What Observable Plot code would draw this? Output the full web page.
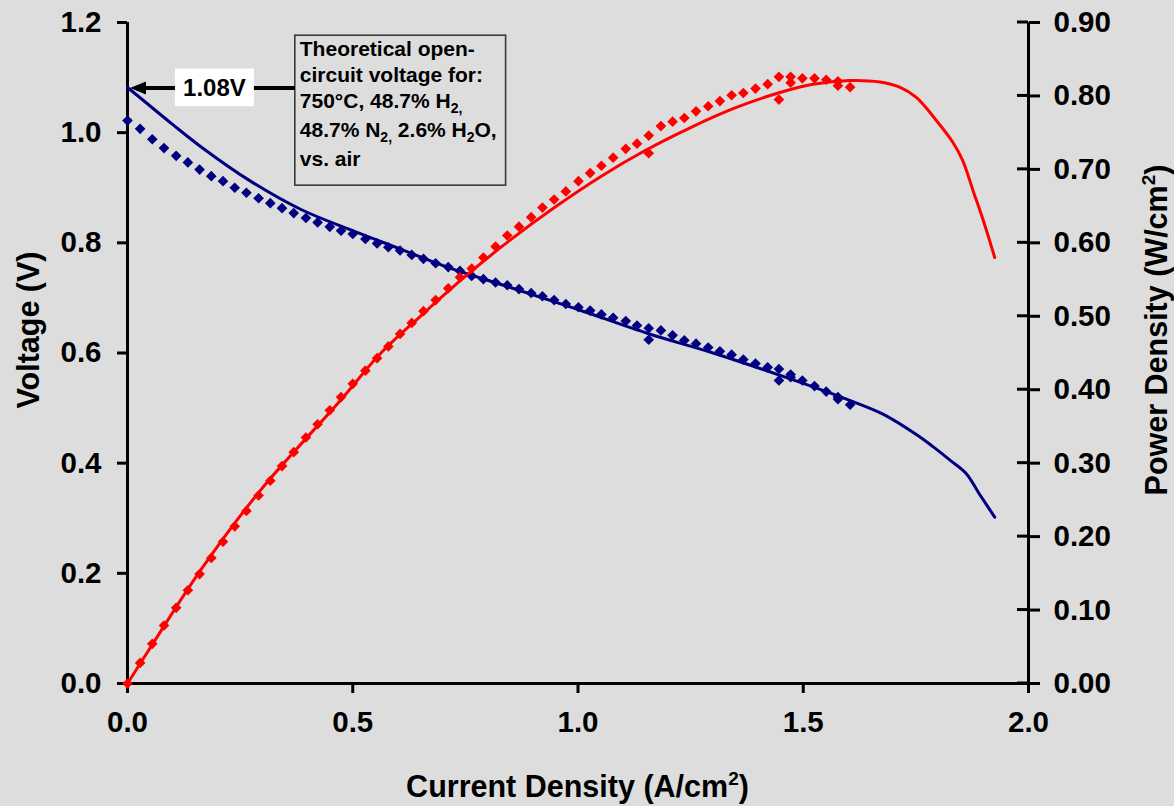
<!DOCTYPE html>
<html>
<head>
<meta charset="utf-8">
<script src="https://cdn.jsdelivr.net/npm/d3@7"></script>
<script src="https://cdn.jsdelivr.net/npm/@observablehq/plot@0.6"></script>
<style>
  html, body { margin: 0; padding: 0; background: #dddddd; }
  #chart svg text { font-family: "Liberation Sans", Arial, sans-serif; font-weight: bold; }
</style>
</head>
<body>
<div id="chart"></div>
<script>
const currentDensity = [0.000, 0.028, 0.055, 0.081, 0.108, 0.134, 0.160, 0.186, 0.212, 0.238, 0.264, 0.291, 0.317, 0.343, 0.369, 0.396, 0.422, 0.449, 0.474, 0.500, 0.528, 0.554, 0.579, 0.605, 0.631, 0.657, 0.684, 0.712, 0.738, 0.764, 0.790, 0.817, 0.843, 0.869, 0.896, 0.921, 0.947, 0.973, 1.001, 1.027, 1.052, 1.078, 1.106, 1.131, 1.157, 1.157, 1.184, 1.210, 1.236, 1.262, 1.289, 1.315, 1.341, 1.367, 1.394, 1.421, 1.446, 1.446, 1.472, 1.472, 1.498, 1.525, 1.551, 1.577, 1.577, 1.604];
const voltage = [1.022, 1.007, 0.988, 0.972, 0.958, 0.946, 0.933, 0.921, 0.912, 0.900, 0.891, 0.881, 0.872, 0.863, 0.854, 0.845, 0.837, 0.829, 0.822, 0.816, 0.807, 0.799, 0.792, 0.786, 0.778, 0.771, 0.763, 0.756, 0.749, 0.740, 0.734, 0.728, 0.723, 0.716, 0.709, 0.703, 0.696, 0.689, 0.683, 0.677, 0.670, 0.664, 0.658, 0.650, 0.645, 0.624, 0.641, 0.632, 0.623, 0.617, 0.610, 0.603, 0.597, 0.588, 0.581, 0.574, 0.571, 0.550, 0.561, 0.556, 0.550, 0.540, 0.530, 0.520, 0.516, 0.506];
const powerDensity = [0.000, 0.028, 0.054, 0.079, 0.103, 0.127, 0.149, 0.171, 0.193, 0.214, 0.235, 0.256, 0.276, 0.296, 0.315, 0.335, 0.353, 0.372, 0.390, 0.408, 0.426, 0.443, 0.459, 0.476, 0.491, 0.507, 0.522, 0.538, 0.553, 0.565, 0.580, 0.595, 0.610, 0.622, 0.635, 0.648, 0.659, 0.670, 0.684, 0.695, 0.705, 0.716, 0.728, 0.735, 0.746, 0.722, 0.759, 0.765, 0.770, 0.779, 0.786, 0.793, 0.801, 0.804, 0.810, 0.816, 0.826, 0.795, 0.826, 0.818, 0.824, 0.824, 0.822, 0.820, 0.814, 0.812];

// ---- model fit curves ----
const fitCurrentV = [0.000, 0.036, 0.100, 0.162, 0.273, 0.384, 0.494, 0.605, 0.716, 0.850, 1.000, 1.157, 1.300, 1.492, 1.603, 1.677, 1.751, 1.788, 1.825, 1.862, 1.891, 1.925];
const fitVoltage  = [1.082, 1.058, 1.015, 0.975, 0.912, 0.861, 0.824, 0.789, 0.754, 0.719, 0.679, 0.635, 0.600, 0.547, 0.514, 0.489, 0.452, 0.430, 0.406, 0.381, 0.344, 0.302];
const fitCurrentP = [0.000, 0.055, 0.162, 0.295, 0.472, 0.561, 0.650, 0.753, 0.850, 0.950, 1.050, 1.150, 1.250, 1.350, 1.450, 1.522, 1.603, 1.670, 1.714, 1.751, 1.795, 1.832, 1.854, 1.877, 1.902, 1.925];
const fitPower    = [0.000, 0.053, 0.154, 0.263, 0.385, 0.449, 0.500, 0.556, 0.604, 0.649, 0.690, 0.726, 0.757, 0.784, 0.805, 0.816, 0.821, 0.819, 0.812, 0.798, 0.767, 0.737, 0.712, 0.671, 0.626, 0.580];

// ---- axes ----
const xTicks = [0, 0.5, 1.0, 1.5, 2.0];
const voltageTicks = [0, 0.2, 0.4, 0.6, 0.8, 1.0, 1.2];
const powerTicks = [0, 0.1, 0.2, 0.3, 0.4, 0.5, 0.6, 0.7, 0.8, 0.9];
const openCircuitVoltage = 1.08;

const vMax = 1.2, pMax = 0.9;
const toV = p => p * vMax / pMax;   // map power onto the voltage scale (dual axis)

const points = currentDensity.map((c, i) => ({c, v: voltage[i], p: powerDensity[i]}));
const fitV = fitCurrentV.map((c, i) => ({c, v: fitVoltage[i]}));
const fitP = fitCurrentP.map((c, i) => ({c, p: fitPower[i]}));

const navy = "#000080", red = "#ff0000";
const tickFont = 29.5, titleFont = 30.5;

const plot = Plot.plot({
  width: 1174,
  height: 806,
  marginLeft: 127,
  marginRight: 146,
  marginTop: 22,
  marginBottom: 123,
  style: {background: "#dddddd", fontFamily: "Liberation Sans, Arial, sans-serif", fontSize: "29px", fontWeight: "bold", color: "black", overflow: "visible"},
  x: {domain: [0, 2]},
  y: {domain: [0, vMax]},
  marks: [
    Plot.axisX(xTicks, {tickFormat: d => d.toFixed(1), tickSize: 10, tickPadding: 18, strokeWidth: 3, fontSize: tickFont, fontWeight: "bold", label: null}),
    Plot.axisY(voltageTicks, {anchor: "left", tickFormat: d => d.toFixed(1), tickSize: 10, tickPadding: 16, strokeWidth: 3, fontSize: tickFont, fontWeight: "bold", label: null}),
    Plot.axisY(powerTicks.map(toV), {anchor: "right", tickFormat: d => (d * pMax / vMax).toFixed(2), tickSize: 11, tickPadding: 14, strokeWidth: 3, fontSize: tickFont, fontWeight: "bold", label: null}),
    Plot.ruleX([0, 2], {y1: 0, y2: vMax, stroke: "black", strokeWidth: 3}),
    Plot.ruleY([0], {x1: 0, x2: 2, stroke: "black", strokeWidth: 3}),
    Plot.line(fitV, {x: "c", y: "v", stroke: navy, strokeWidth: 3, curve: "catmull-rom"}),
    Plot.dot(points, {x: "c", y: "v", symbol: "diamond2", r: 4.8, fill: navy}),
    Plot.line(fitP, {x: "c", y: d => toV(d.p), stroke: red, strokeWidth: 3, curve: "catmull-rom"}),
    Plot.dot(points, {x: "c", y: d => toV(d.p), symbol: "diamond2", r: 4.8, fill: red})
  ]
});
document.getElementById("chart").appendChild(plot);

// ---- decorations drawn with the plot's own scales ----
const sx = plot.scale("x"), sy = plot.scale("y");
const X = v => sx.apply(v), Y = v => sy.apply(v);
const svg = d3.select(plot);
const g = svg.append("g").attr("text-anchor", "start");

// inward half of the crossing ticks on the right axis
powerTicks.forEach(p => {
  g.append("line").attr("x1", X(2) - 11).attr("x2", X(2)).attr("y1", Y(toV(p))).attr("y2", Y(toV(p)))
    .attr("stroke", "black").attr("stroke-width", 3);
});

// annotation box
const boxI = [0.3725, 0.8404], boxV = [0.9038, 1.176];
const bx = X(boxI[0]), by = Y(boxV[1]), bw = X(boxI[1]) - X(boxI[0]), bh = Y(boxV[0]) - Y(boxV[1]);
g.append("rect").attr("x", bx).attr("y", by).attr("width", bw).attr("height", bh)
  .attr("fill", "#dddddd").attr("stroke", "#3a3a3a").attr("stroke-width", 1.6);

// arrow from the box to the open-circuit voltage on the axis
const ay = Y(openCircuitVoltage);
g.append("line").attr("x1", bx).attr("x2", X(0) + 14).attr("y1", ay).attr("y2", ay)
  .attr("stroke", "black").attr("stroke-width", 4);
g.append("path").attr("d", `M${X(0) + 3},${ay}L${X(0) + 19},${ay - 6.5}L${X(0) + 19},${ay + 6.5}Z`).attr("fill", "black");

// "1.08V" label with white background
const labI = [0.1064, 0.2816], labV = [1.0472, 1.1156];
g.append("rect").attr("x", X(labI[0])).attr("y", Y(labV[1])).attr("width", X(labI[1]) - X(labI[0])).attr("height", Y(labV[0]) - Y(labV[1]))
  .attr("fill", "white");
g.append("text").attr("x", (X(labI[0]) + X(labI[1])) / 2).attr("y", Y(labV[0]) - 10)
  .attr("text-anchor", "middle").attr("font-size", 24).attr("fill", "black").text(openCircuitVoltage.toFixed(2) + "V");

// box text with subscripts
const lines = [
  [["Theoretical open-"]],
  [["circuit voltage for:"]],
  [["750°C, 48.7% H"], ["2,", "sub"]],
  [["48.7% N"], ["2,", "sub"], [" 2.6% H", "up"], ["2", "sub"], ["O,", "up"]],
  [["vs. air"]]
];
const baselines = [21, 47, 73, 102, 131];
lines.forEach((parts, i) => {
  const t = g.append("text").attr("x", bx + 5).attr("y", by + baselines[i]).attr("text-anchor", "start").attr("font-size", 21).attr("fill", "black");
  parts.forEach(([s, kind]) => {
    const ts = t.append("tspan").text(s);
    if (kind === "sub") ts.attr("font-size", 14).attr("dy", 5);
    if (kind === "up") ts.attr("dy", -5);
  });
});

// axis titles
const xt = g.append("text").attr("x", (X(0) + X(2)) / 2).attr("y", 797).attr("text-anchor", "middle").attr("font-size", titleFont).attr("fill", "black");
xt.append("tspan").text("Current Density (A/cm");
xt.append("tspan").text("2").attr("font-size", 19).attr("dy", -12);
xt.append("tspan").text(")").attr("dy", 12);

const cy = 330;
g.append("text").attr("transform", `translate(39,${cy}) rotate(-90)`).attr("text-anchor", "middle").attr("font-size", titleFont).attr("fill", "black").text("Voltage (V)");

const yt = g.append("text").attr("transform", `translate(1167,${cy}) rotate(-90)`).attr("text-anchor", "middle").attr("font-size", titleFont).attr("fill", "black");
yt.append("tspan").text("Power Density (W/cm");
yt.append("tspan").text("2").attr("font-size", 19).attr("dy", -12);
yt.append("tspan").text(")").attr("dy", 12);
</script>
</body>
</html>
